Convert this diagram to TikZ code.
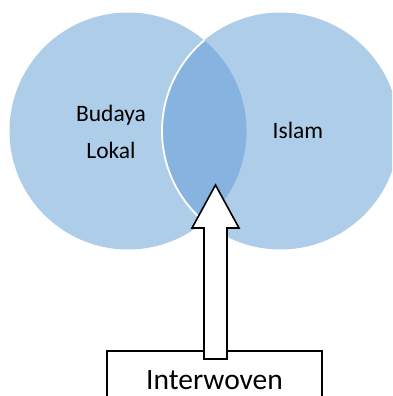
\documentclass[tikz,border=0pt]{standalone}
\usepackage{fontspec}
\setmainfont{Carlito}
\definecolor{lightc}{RGB}{174,205,233}
\definecolor{darkc}{RGB}{134,179,223}
\begin{document}
\begin{tikzpicture}[x=1pt,y=-1pt,
  lbl/.style={font=\fontsize{23.5}{37}\selectfont, align=center, inner sep=0pt},
  outline/.style={draw=black, line width=1.6pt}]
\useasboundingbox (0,0) rectangle (392,396);
\begin{scope}
\clip (0,0) rectangle (392,396);
\fill[lightc] (128,131) circle[radius=118.5];
\fill[lightc] (280.5,131) circle[radius=118.5];
\begin{scope}
\clip (128,131) circle[radius=118.5];
\fill[darkc] (280.5,131) circle[radius=118.5];
\draw[white, line width=1.8pt] (280.5,131) circle[radius=118.5];
\end{scope}
\node[lbl] (bl) at (111,132) {Budaya\\Lokal};
\node[lbl, anchor=base] (is) at (298,138) {Islam};
% box
\draw[outline, fill=white] (107,420) -- (107,351) -- (322,351) -- (322,420);
\node[font=\fontsize{29.5}{32}\selectfont, anchor=base, inner sep=0pt] (iw) at (214.5,389) {Interwoven};
\coordinate (tip) at (215.5,185);
% block arrow
\draw[outline, fill=white, line join=miter]
  (204,359) -- (204,228) -- (192,228) -- (tip) -- (239,228) -- (227,228) -- (227,359) -- cycle;
\end{scope}
\end{tikzpicture}
\end{document}
